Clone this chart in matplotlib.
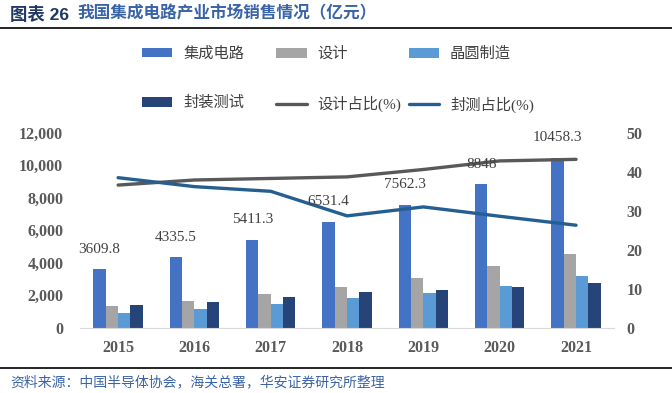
import matplotlib
matplotlib.use("Agg")
import matplotlib.pyplot as plt
import numpy as np

plt.rcParams['font.family'] = ['Liberation Serif', 'Noto Sans CJK SC', 'DejaVu Sans']

years = ['2015', '2016', '2017', '2018', '2019', '2020', '2021']
ic_total = [3609.8, 4335.5, 5411.3, 6531.4, 7562.3, 8848, 10458.3]
design = [1325.0, 1644.3, 2073.5, 2519.3, 3063.5, 3778.4, 4519.0]
wafer = [900.8, 1126.9, 1448.1, 1818.2, 2149.1, 2560.1, 3176.3]
packaging = [1384.0, 1564.3, 1889.7, 2193.9, 2349.7, 2509.5, 2763.0]
design_share = [36.6, 37.9, 38.3, 38.7, 40.6, 42.8, 43.2]
pkg_share = [38.5, 36.2, 35.0, 28.7, 31.0, 28.6, 26.3]

bar_names = ['集成电路', '设计', '晶圆制造', '封装测试']
bar_colors = ['#4472C4', '#A5A5A5', '#5B9BD5', '#264478']
line_names = ['设计占比(%)', '封测占比(%)']
line_colors = ['#595959', '#255E91']

fig = plt.figure(figsize=(6.72, 3.93), dpi=100)
ax = fig.add_axes([0.119, 0.166, 0.795, 0.496])
ax2 = ax.twinx()

x = np.arange(len(years))
w = 0.162
bars = []
for i, (vals, c) in enumerate(zip([ic_total, design, wafer, packaging], bar_colors)):
    b = ax.bar(x + (i - 1.5) * w, vals, w, color=c, zorder=2)
    bars.append(b)

lines = []
for vals, c in zip([design_share, pkg_share], line_colors):
    l, = ax2.plot(x, vals, color=c, lw=2.4, solid_capstyle='round', zorder=3)
    lines.append(l)

for xi, v in zip(x - 1.5 * w, ic_total):
    label = f'{v:g}'
    ax2.annotate(label, xy=(xi, v), xycoords=ax.transData, xytext=(0, 14.4),
                 textcoords='offset points', ha='center', va='center',
                 fontsize=11, color='#404040', zorder=5)

ax.set_xlim(-0.5, len(years) - 0.5)
ax.set_ylim(0, 12000)
ax2.set_ylim(0, 50)
ax.set_yticks(np.arange(0, 12001, 2000))
ax.set_yticklabels([f'{int(t):,}' for t in np.arange(0, 12001, 2000)])
ax2.set_yticks(np.arange(0, 51, 10))
ax.set_xticks(x)
ax.set_xticklabels(years)

for a in (ax, ax2):
    for s in a.spines.values():
        s.set_visible(False)
    a.tick_params(length=0, labelsize=11.5, labelcolor='#595959')
    for t in a.get_xticklabels() + a.get_yticklabels():
        t.set_fontweight('bold')
ax.spines['bottom'].set_visible(True)
ax.spines['bottom'].set_color('#D9D9D9')
ax.tick_params(axis='y', pad=12)
ax.tick_params(axis='x', pad=9)
ax2.tick_params(axis='y', pad=9)

# legend: three columns placed one by one
legend_cols = [
    ([bars[0], bars[3]], [bar_names[0], bar_names[3]], 0.193),
    ([bars[1], lines[0]], [bar_names[1], line_names[0]], 0.393),
    ([bars[2], lines[1]], [bar_names[2], line_names[1]], 0.590),
]
for hs, ls, x0 in legend_cols:
    leg = fig.legend(hs, ls, loc='upper left', bbox_to_anchor=(x0, 0.912),
                     frameon=False, fontsize=11, handlelength=2.0, handleheight=0.6,
                     handletextpad=0.7, labelspacing=2.3, borderpad=0.3)
    for t in leg.get_texts():
        t.set_color('#404040')

fig.text(0.015, 0.963, '图表 26', fontsize=12.5, fontweight='bold', color='#1F3864',
         va='center', ha='left', family=['Liberation Sans', 'Noto Sans CJK SC'])
fig.text(0.116, 0.963, '我国集成电路产业市场销售情况（亿元）', fontsize=12, fontweight='bold',
         color='#3A64A8', va='center', ha='left')
fig.add_artist(plt.Line2D([0, 1], [0.928, 0.928], color='black', lw=1.2,
                          transform=fig.transFigure))
fig.add_artist(plt.Line2D([0, 1], [0.063, 0.063], color='black', lw=1.2,
                          transform=fig.transFigure))
fig.text(0.015, 0.028, '资料来源：中国半导体协会，海关总署，华安证券研究所整理', fontsize=10,
         color='#3A64A8', va='center', ha='left')

fig.savefig('out.png', dpi=100)
